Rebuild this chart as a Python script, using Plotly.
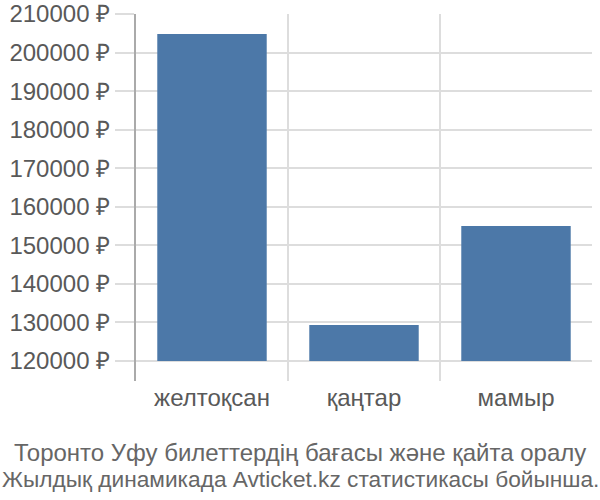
import plotly.graph_objects as go

# ticket prices by month
months = ["желтоқсан", "қаңтар", "мамыр"]
prices = [204800, 129300, 155000]
price_floor = 120000

title_lines = [
    "Торонто Уфу билеттердің бағасы және қайта оралу",
    "Жылдық динамикада Avticket.kz статистикасы бойынша.",
]

fig = go.Figure()
fig.add_trace(go.Bar(
    x=months,
    y=[p - price_floor for p in prices],
    base=price_floor,
    marker=dict(color="#4c78a8", line=dict(width=0)),
    hoverinfo="skip",
))

fig.update_layout(
    width=600,
    height=500,
    margin=dict(l=136, r=8, t=14, b=119),
    plot_bgcolor="white",
    paper_bgcolor="white",
    font=dict(family="Liberation Sans, Arial, sans-serif", size=24, color="#595959"),
    bargap=0.28,
    showlegend=False,
)

fig.update_xaxes(
    type="category",
    tickson="boundaries",
    showgrid=True,
    gridcolor="#dddddd",
    gridwidth=2,
    ticks="",
    ticklabelstandoff=0,
    showline=False,
    zeroline=False,
    automargin=False,
    tickfont=dict(size=24, color="#595959"),
)

fig.update_yaxes(
    range=[114800, 210000],
    dtick=10000,
    tick0=120000,
    tickformat="d",
    ticksuffix=" ₽",
    showgrid=True,
    gridcolor="#dddddd",
    gridwidth=2,
    ticks="outside",
    ticklen=19,
    tickcolor="#dddddd",
    tickwidth=2,
    showline=True,
    linecolor="#aaaaaa",
    linewidth=2,
    zeroline=False,
    automargin=False,
    tickfont=dict(size=24, color="#595959"),
)

# two-line caption under the chart, centred on the page
plot_h = 500 - 14 - 119
for line, size, y_px in zip(title_lines, [24, 22.7], [452, 479]):
    fig.add_annotation(
        text=line,
        xref="paper", yref="paper",
        x=(300 - 136) / 456, y=-(y_px - 381) / plot_h,
        xanchor="center", yanchor="middle",
        showarrow=False,
        font=dict(size=size, color="#666666"),
    )

# page body has an 8px default margin; drop it so the figure sits at 0,0
fig.write_html(
    "out.html",
    config={"displayModeBar": False},
    post_script="document.body.style.margin='0';",
)
